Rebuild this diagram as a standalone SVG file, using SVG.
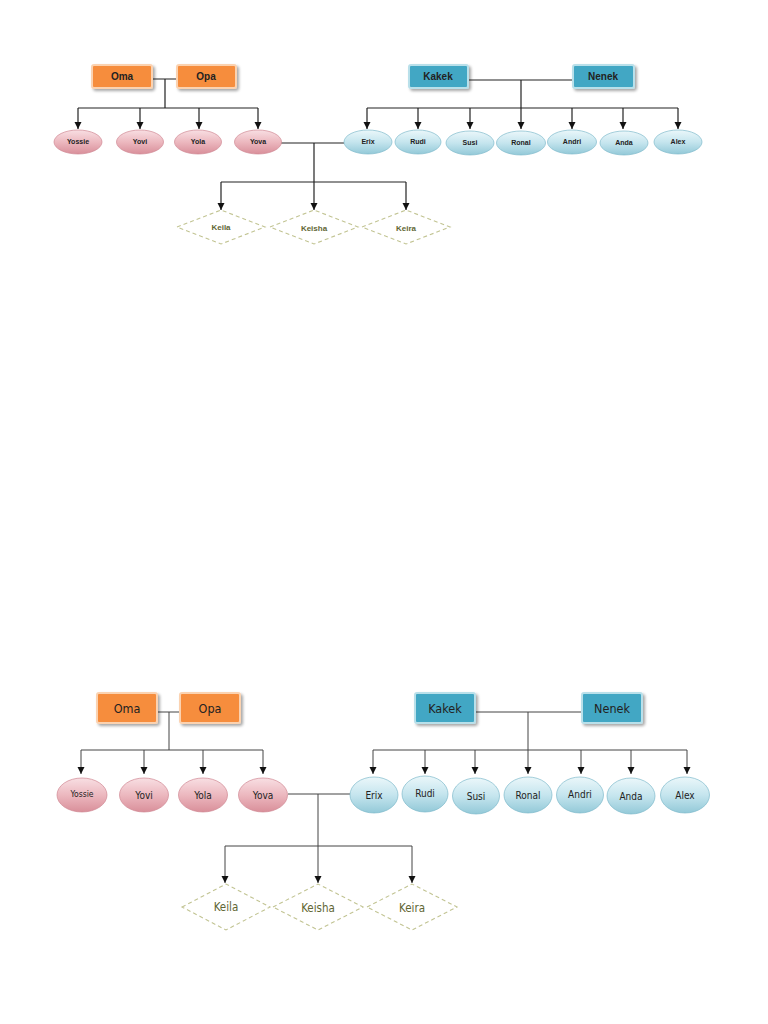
<svg xmlns="http://www.w3.org/2000/svg" width="768" height="1024" viewBox="0 0 768 1024">
<defs>
  <linearGradient id="pink" x1="0" y1="0" x2="0" y2="1">
    <stop offset="0" stop-color="#f8dfe3"/>
    <stop offset="0.5" stop-color="#ecb8bf"/>
    <stop offset="1" stop-color="#d98f9a"/>
  </linearGradient>
  <linearGradient id="blue" x1="0" y1="0" x2="0" y2="1">
    <stop offset="0" stop-color="#ebf7fa"/>
    <stop offset="0.5" stop-color="#c5e5ee"/>
    <stop offset="1" stop-color="#93c9d8"/>
  </linearGradient>
  <filter id="sh" x="-20%" y="-30%" width="150%" height="170%">
    <feGaussianBlur in="SourceAlpha" stdDeviation="1.5"/>
    <feOffset dx="1.5" dy="1.5" result="b"/>
    <feComponentTransfer><feFuncA type="linear" slope="0.35"/></feComponentTransfer>
    <feMerge><feMergeNode/><feMergeNode in="SourceGraphic"/></feMerge>
  </filter>
  <marker id="arr" markerUnits="userSpaceOnUse" markerWidth="8" markerHeight="8" refX="7" refY="3.5" orient="auto">
    <path d="M0,0 L7,3.5 L0,7 Z" fill="#111"/>
  </marker>
</defs>
<style>
  .ln{fill:none;stroke:#222;stroke-width:1.2}
  .ln2{fill:none;stroke:#444;stroke-width:1}
  .ob{fill:#f68d3d;stroke:#fbd2b0;stroke-width:2}
  .tb{fill:#43a7c4;stroke:#b9e0ea;stroke-width:2}
  .pe{fill:url(#pink);stroke:#d08893;stroke-width:0.7}
  .be{fill:url(#blue);stroke:#7fbacb;stroke-width:0.7}
  .dm{fill:#fff;stroke:#c2c493;stroke-width:1.1;stroke-dasharray:4 3}
  .t{font-family:"Liberation Sans",Arial,sans-serif;text-anchor:middle;dominant-baseline:central;fill:#222}
  .s1b{font-size:10px;font-weight:bold}
  .s1e{font-size:7px;font-weight:bold}
  .s1d{font-size:8px;font-weight:bold;fill:#5f6634}
  .s2b{font-family:"DejaVu Sans Condensed","Liberation Sans",sans-serif;font-size:12.5px}
  .s2e{font-family:"DejaVu Sans Condensed","Liberation Sans",sans-serif;font-size:10px}
  .s2d{font-family:"DejaVu Sans Condensed","Liberation Sans",sans-serif;font-size:11.5px;fill:#5f6634}
</style>

<!-- TOP DIAGRAM -->
<g id="connectors-top">
  <path class="ln" d="M152,79 H177 M165,79 V108 M78,108 H258"/>
  <path class="ln" d="M78,108 V129" marker-end="url(#arr)"/>
  <path class="ln" d="M140,108 V129" marker-end="url(#arr)"/>
  <path class="ln" d="M199,108 V129" marker-end="url(#arr)"/>
  <path class="ln" d="M258,108 V129" marker-end="url(#arr)"/>
  <path class="ln" d="M468,80 H573 M367,108 H678"/>
  <path class="ln" d="M521,80 V129" marker-end="url(#arr)"/>
  <path class="ln" d="M367,108 V129" marker-end="url(#arr)"/>
  <path class="ln" d="M418,108 V129" marker-end="url(#arr)"/>
  <path class="ln" d="M470,108 V129" marker-end="url(#arr)"/>
  <path class="ln" d="M572,108 V129" marker-end="url(#arr)"/>
  <path class="ln" d="M623,108 V129" marker-end="url(#arr)"/>
  <path class="ln" d="M678,108 V129" marker-end="url(#arr)"/>
  <path class="ln" d="M281,143 H344 M221,182 H406"/>
  <path class="ln" d="M314,143 V210" marker-end="url(#arr)"/>
  <path class="ln" d="M221,182 V210" marker-end="url(#arr)"/>
  <path class="ln" d="M406,182 V210" marker-end="url(#arr)"/>
</g>
<g id="t-oma"><rect class="ob" x="92" y="65" width="60" height="23" rx="2" filter="url(#sh)"/><text class="t s1b" x="122" y="76.5">Oma</text></g>
<g id="t-opa"><rect class="ob" x="177" y="65" width="59" height="23" rx="2" filter="url(#sh)"/><text class="t s1b" x="206" y="76.5">Opa</text></g>
<g id="t-kakek"><rect class="tb" x="409" y="65" width="59" height="23" rx="2" filter="url(#sh)"/><text class="t s1b" x="438" y="76.5">Kakek</text></g>
<g id="t-nenek"><rect class="tb" x="573" y="65" width="61" height="23" rx="2" filter="url(#sh)"/><text class="t s1b" x="603" y="76.5">Nenek</text></g>
<g id="t-yossie"><ellipse class="pe" cx="78" cy="142" rx="24" ry="12"/><text class="t s1e" x="78" y="141">Yossie</text></g>
<g id="t-yovi"><ellipse class="pe" cx="140" cy="142" rx="23.5" ry="12"/><text class="t s1e" x="140" y="141">Yovi</text></g>
<g id="t-yola"><ellipse class="pe" cx="198" cy="142" rx="23.5" ry="12"/><text class="t s1e" x="198" y="141">Yola</text></g>
<g id="t-yova"><ellipse class="pe" cx="258" cy="142" rx="23.5" ry="12"/><text class="t s1e" x="258" y="141">Yova</text></g>
<g id="t-erix"><ellipse class="be" cx="368" cy="142" rx="24" ry="12"/><text class="t s1e" x="368" y="141">Erix</text></g>
<g id="t-rudi"><ellipse class="be" cx="418" cy="142" rx="23" ry="12"/><text class="t s1e" x="418" y="141">Rudi</text></g>
<g id="t-susi"><ellipse class="be" cx="470" cy="143" rx="24" ry="12"/><text class="t s1e" x="470" y="142">Susi</text></g>
<g id="t-ronal"><ellipse class="be" cx="521" cy="143" rx="24.5" ry="12"/><text class="t s1e" x="521" y="142">Ronal</text></g>
<g id="t-andri"><ellipse class="be" cx="572" cy="142" rx="24.5" ry="12"/><text class="t s1e" x="572" y="141">Andri</text></g>
<g id="t-anda"><ellipse class="be" cx="624" cy="143" rx="24" ry="12"/><text class="t s1e" x="624" y="142">Anda</text></g>
<g id="t-alex"><ellipse class="be" cx="678" cy="142" rx="24" ry="12"/><text class="t s1e" x="678" y="141">Alex</text></g>
<g id="t-keila"><path class="dm" d="M177,227 L221,210 L265,227 L221,244 Z"/><text class="t s1d" x="221" y="227">Keila</text></g>
<g id="t-keisha"><path class="dm" d="M270,227 L314,210 L358,227 L314,244 Z"/><text class="t s1d" x="314" y="228">Keisha</text></g>
<g id="t-keira"><path class="dm" d="M362,227 L406,210 L450,227 L406,244 Z"/><text class="t s1d" x="406" y="228">Keira</text></g>

<!-- BOTTOM DIAGRAM -->
<g id="connectors-bottom">
  <path class="ln2" d="M157,712 H180 M169,712 V750 M81,750 H263"/>
  <path class="ln2" d="M81,750 V774" marker-end="url(#arr)"/>
  <path class="ln2" d="M144,750 V774" marker-end="url(#arr)"/>
  <path class="ln2" d="M203,750 V774" marker-end="url(#arr)"/>
  <path class="ln2" d="M263,750 V774" marker-end="url(#arr)"/>
  <path class="ln2" d="M475,712 H582 M373,750 H687"/>
  <path class="ln2" d="M528,712 V774" marker-end="url(#arr)"/>
  <path class="ln2" d="M373,750 V774" marker-end="url(#arr)"/>
  <path class="ln2" d="M425,750 V774" marker-end="url(#arr)"/>
  <path class="ln2" d="M475,750 V774" marker-end="url(#arr)"/>
  <path class="ln2" d="M581,750 V774" marker-end="url(#arr)"/>
  <path class="ln2" d="M631,750 V774" marker-end="url(#arr)"/>
  <path class="ln2" d="M687,750 V774" marker-end="url(#arr)"/>
  <path class="ln2" d="M288,794 H350 M225,846 H412"/>
  <path class="ln2" d="M318,794 V883" marker-end="url(#arr)"/>
  <path class="ln2" d="M225,846 V883" marker-end="url(#arr)"/>
  <path class="ln2" d="M412,846 V883" marker-end="url(#arr)"/>
</g>
<g id="b-oma"><rect class="ob" x="97" y="693" width="60" height="30" rx="2" filter="url(#sh)"/><text class="t s2b" x="127" y="708">Oma</text></g>
<g id="b-opa"><rect class="ob" x="180" y="693" width="60" height="30" rx="2" filter="url(#sh)"/><text class="t s2b" x="210" y="708">Opa</text></g>
<g id="b-kakek"><rect class="tb" x="415" y="693" width="60" height="30" rx="2" filter="url(#sh)"/><text class="t s2b" x="445" y="708">Kakek</text></g>
<g id="b-nenek"><rect class="tb" x="582" y="693" width="60" height="30" rx="2" filter="url(#sh)"/><text class="t s2b" x="612" y="708">Nenek</text></g>
<g id="b-yossie"><ellipse class="pe" cx="82" cy="795" rx="25" ry="17"/><text class="t s2e" x="82" y="794" style="font-size:8.5px">Yossie</text></g>
<g id="b-yovi"><ellipse class="pe" cx="144" cy="795" rx="24.5" ry="17"/><text class="t s2e" x="144" y="795">Yovi</text></g>
<g id="b-yola"><ellipse class="pe" cx="203" cy="795" rx="24.5" ry="17"/><text class="t s2e" x="203" y="795">Yola</text></g>
<g id="b-yova"><ellipse class="pe" cx="263" cy="795" rx="24.5" ry="17"/><text class="t s2e" x="263" y="795">Yova</text></g>
<g id="b-erix"><ellipse class="be" cx="374" cy="795" rx="24" ry="18"/><text class="t s2e" x="374" y="795">Erix</text></g>
<g id="b-rudi"><ellipse class="be" cx="425" cy="794" rx="23" ry="18"/><text class="t s2e" x="425" y="793">Rudi</text></g>
<g id="b-susi"><ellipse class="be" cx="476" cy="796" rx="23.5" ry="18"/><text class="t s2e" x="476" y="796">Susi</text></g>
<g id="b-ronal"><ellipse class="be" cx="528" cy="795" rx="24" ry="18"/><text class="t s2e" x="528" y="795">Ronal</text></g>
<g id="b-andri"><ellipse class="be" cx="580" cy="795" rx="23.5" ry="18"/><text class="t s2e" x="580" y="794">Andri</text></g>
<g id="b-anda"><ellipse class="be" cx="631" cy="796" rx="24" ry="18"/><text class="t s2e" x="631" y="796">Anda</text></g>
<g id="b-alex"><ellipse class="be" cx="685" cy="795" rx="24.5" ry="18"/><text class="t s2e" x="685" y="795">Alex</text></g>
<g id="b-keila"><path class="dm" d="M182,907 L226,884 L270,907 L226,930 Z"/><text class="t s2d" x="226" y="907">Keila</text></g>
<g id="b-keisha"><path class="dm" d="M273,907 L318,884 L363,907 L318,930 Z"/><text class="t s2d" x="318" y="908">Keisha</text></g>
<g id="b-keira"><path class="dm" d="M367,907 L412,884 L457,907 L412,930 Z"/><text class="t s2d" x="412" y="908">Keira</text></g>
</svg>
